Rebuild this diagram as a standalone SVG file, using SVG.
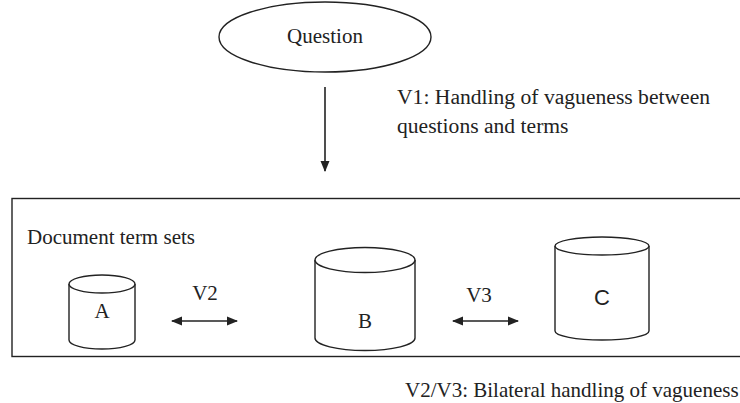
<svg xmlns="http://www.w3.org/2000/svg" width="740" height="403" viewBox="0 0 740 403">
<defs>
<style>
.t{font-family:"Liberation Serif","Times New Roman",serif;font-size:21px;fill:#222}
.s{font-family:"Liberation Sans",Arial,sans-serif;font-size:22px;fill:#222}
.sh{fill:#fff;stroke:#222;stroke-width:1.4}
.ln{stroke:#222;stroke-width:1.6;fill:none}
</style>
<marker id="ah" viewBox="0 0 11 10" refX="10" refY="5" markerWidth="11" markerHeight="10" markerUnits="userSpaceOnUse" orient="auto-start-reverse">
<path d="M0,0.5 L11,5 L0,9.5 Z" fill="#222"/>
</marker>
</defs>
<rect width="740" height="403" fill="#fff"/>
<g id="frame">
<rect x="12" y="198.5" width="750" height="158" class="sh" stroke-width="1.6"/>
<text class="t" x="27" y="244">Document term sets</text>
</g>
<g id="question">
<ellipse cx="325" cy="37" rx="106" ry="35" class="sh"/>
<text class="t" x="325" y="43" text-anchor="middle">Question</text>
</g>
<g id="A">
<path class="sh" d="M69,284 V340 A33,9 0 0,0 135,340 V284"/>
<ellipse class="sh" cx="102" cy="284" rx="33" ry="9"/>
<text class="t" x="102" y="318" text-anchor="middle">A</text>
</g>
<g id="B">
<path class="sh" d="M315,260 V338 A50,12.5 0 0,0 415,338 V260"/>
<ellipse class="sh" cx="365" cy="260" rx="50" ry="12.5"/>
<text class="t" x="365" y="328" text-anchor="middle">B</text>
</g>
<g id="C">
<path class="sh" d="M555,246 V331 A47,9 0 0,0 649,331 V246"/>
<ellipse class="sh" cx="602" cy="246" rx="47" ry="9"/>
<text class="s" x="602" y="305" text-anchor="middle">C</text>
</g>
<g id="connectors">
<line class="ln" x1="325" y1="87" x2="325" y2="171" marker-end="url(#ah)"/>
<line class="ln" x1="172" y1="321" x2="237" y2="321" marker-start="url(#ah)" marker-end="url(#ah)"/>
<line class="ln" x1="453" y1="321" x2="518" y2="321" marker-start="url(#ah)" marker-end="url(#ah)"/>
</g>
<g id="labels">
<text class="t" x="397" y="104" style="font-size:21.6px">V1: Handling of vagueness between</text>
<text class="t" x="397" y="133" style="font-size:21.6px">questions and terms</text>
<text class="t" x="205" y="300" text-anchor="middle">V2</text>
<text class="t" x="479" y="302" text-anchor="middle">V3</text>
<text class="t" x="405" y="397">V2/V3: Bilateral handling of vagueness</text>
</g>
</svg>
